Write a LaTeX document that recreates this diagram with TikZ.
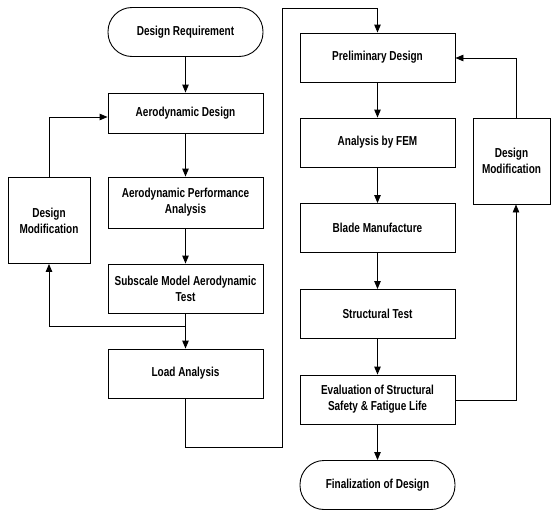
\documentclass[tikz,border=0pt]{standalone}
\usepackage{fontspec}
\setmainfont{Liberation Sans}[FakeStretch=0.77,UprightFont=* Bold]
\usetikzlibrary{arrows.meta}
\begin{document}
\begin{tikzpicture}[x=1pt,y=-1pt,
  every node/.style={font=\fontsize{13}{16}\selectfont, align=center, inner sep=0pt, line width=0.9pt},
  box/.style={draw, minimum width=155pt, minimum height=49pt},
  term/.style={draw, rounded corners=24pt, minimum width=155pt, minimum height=49pt},
  dmbox/.style={draw, minimum height=86pt},
  conn/.style={line width=0.9pt},
  arr/.style={conn, -{Triangle[length=8pt,width=6.5pt]}}]
\useasboundingbox (0,0) rectangle (552,514);
% left column
\node[term] (dr) at (185.5,32) {Design Requirement};
\node[box, minimum height=40pt] (ad) at (185.5,113) {Aerodynamic Design};
\node[box, minimum height=51pt] (apa) at (185.5,202.5) {Aerodynamic Performance\\Analysis};
\node[box] (smat) at (185.5,288.5) {Subscale Model Aerodynamic\\Test};
\node[box] (la) at (185.5,373.5) {Load Analysis};
\node[dmbox, minimum width=82pt] (dml) at (49,220.5) {Design\\Modification};
% right column
\node[box] (pd) at (377.5,57.5) {Preliminary Design};
\node[box] (fem) at (377.5,142.5) {Analysis by FEM};
\node[box] (bm) at (377.5,228) {Blade Manufacture};
\node[box] (st) at (377.5,314) {Structural Test};
\node[box] (ev) at (377.5,399.5) {Evaluation of Structural\\Safety \& Fatigue Life};
\node[term] (fd) at (377.5,485) {Finalization of Design};
\node[dmbox, minimum width=77pt] (dmr) at (511.5,161) {Design\\Modification};
% coordinates
\coordinate (j1) at (185.5,326);
\coordinate (c1) at (185.5,447);
\coordinate (c2) at (282,447);
\coordinate (c3) at (282,8);
\coordinate (c4) at (377.5,8);
\coordinate (c5) at (49,326);
\coordinate (c6) at (49,117);
\coordinate (r1) at (516,400);
\coordinate (r2) at (516,58);
% connectors
\draw[arr] (dr) -- (ad);
\draw[arr] (ad) -- (apa);
\draw[arr] (apa) -- (smat);
\draw[arr] (smat.south) -- (j1) -- (la.north);
\draw[arr] (j1) -- (c5) -- (dml.south);
\draw[arr] (dml.north) -- (c6) -- (ad.west |- c6);
\draw[arr] (la.south) -- (c1) -- (c2) -- (c3) -- (c4) -- (pd.north);
\draw[arr] (pd) -- (fem);
\draw[arr] (fem) -- (bm);
\draw[arr] (bm) -- (st);
\draw[arr] (st) -- (ev);
\draw[arr] (ev) -- (fd);
\draw[arr] (ev.east |- r1) -- (r1) -- (r1 |- dmr.south);
\draw[arr] (r1 |- dmr.north) -- (r2) -- (pd.east |- r2);
\end{tikzpicture}
\end{document}
